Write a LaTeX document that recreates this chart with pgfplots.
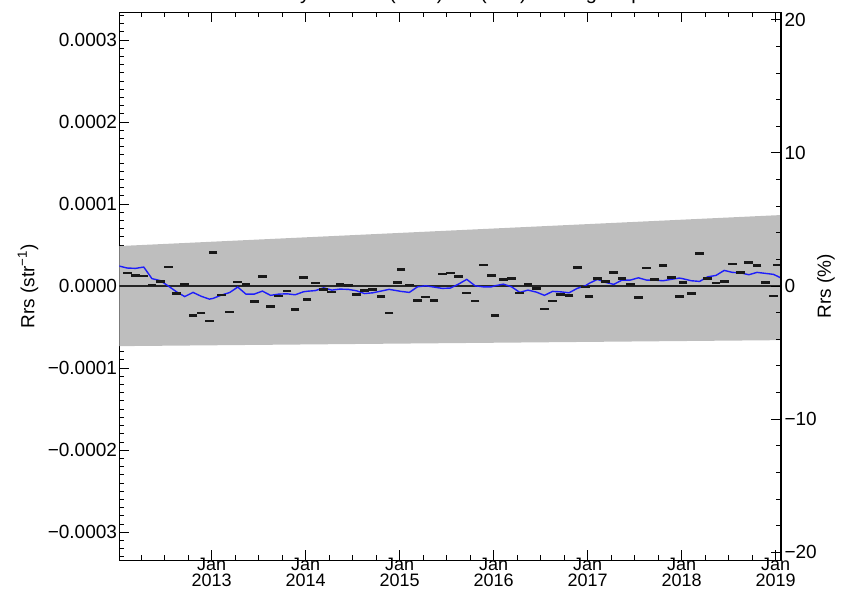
\documentclass[border=0pt]{standalone}
\usepackage{pgfplots}
\pgfplotsset{compat=1.18}
\usepackage{fontspec}
\setmainfont{Liberation Sans}
\definecolor{band}{RGB}{190,190,190}
\definecolor{dline}{RGB}{30,30,250}
\begin{document}
\begin{tikzpicture}
\begin{axis}[
  at={(0,0)}, anchor=south west,
  scale only axis, width=661.5bp, height=548bp,
  xmin=2012.019, xmax=2019.056, ymin=-33.45, ymax=33.35,
  axis line style={line width=1.1bp},
  tick align=inside, major tick length=10bp, minor tick length=5bp,
  every tick/.style={black, line width=0.9bp},
  xtick={2013,2014,2015,2016,2017,2018,2019},
  xticklabels={{Jan\\2013},{Jan\\2014},{Jan\\2015},{Jan\\2016},{Jan\\2017},{Jan\\2018},{Jan\\2019}},
  minor xtick={2012.25,2012.5,...,2019},
  xtick pos=both, ytick pos=left,
  ytick={-30,-20,-10,0,10,20,30},
  yticklabels={−0.0003,−0.0002,−0.0001,0.0000,0.0001,0.0002,0.0003},
  minor ytick={-33,-32,...,33},
  xticklabel style={align=center, font=\fontsize{18bp}{16.5bp}\selectfont, yshift=4bp, inner sep=1bp},
  yticklabel style={font=\fontsize{19bp}{22bp}\selectfont, xshift=1bp},
  ylabel={Rrs (str\textsuperscript{−1})},
  ylabel style={at={(axis description cs:-0.1383,0.5)}, anchor=center, font=\fontsize{19bp}{22bp}\selectfont},
  title={Anomaly in VIIRS(NPP) Rrs(551) for Oligotrophic},
  title style={at={(0.5,1)}, anchor=base, yshift=7bp, font=\fontsize{20bp}{24bp}\selectfont},
]
% uncertainty band
\addplot[fill=band, draw=none] coordinates {(2012.019,4.88) (2019.056,8.66) (2019.056,-6.59) (2012.019,-7.32)};
% zero line
\addplot[black!85, line width=1.6bp] coordinates {(2011.9,0) (2019.2,0)};
% running mean
\addplot[dline, line width=1.4bp] table {
x y
2012.015 2.44
2012.102 2.20
2012.190 2.16
2012.277 2.32
2012.364 0.91
2012.452 0.67
2012.539 0.00
2012.626 -0.70
2012.713 -1.28
2012.801 -0.77
2012.888 -1.24
2012.975 -1.59
2013.015 -1.50
2013.102 -1.10
2013.190 -0.79
2013.277 -0.12
2013.364 -0.98
2013.452 -0.98
2013.539 -0.61
2013.626 -1.13
2013.713 -0.98
2013.801 -0.94
2013.888 -1.06
2013.975 -0.70
2014.015 -0.63
2014.102 -0.55
2014.190 -0.21
2014.277 -0.49
2014.364 -0.37
2014.452 -0.40
2014.539 -0.57
2014.626 -0.91
2014.713 -0.82
2014.801 -0.61
2014.888 -0.40
2014.975 -0.57
2015.015 -0.65
2015.102 -0.77
2015.190 -0.09
2015.277 0.04
2015.364 -0.12
2015.452 -0.28
2015.539 -0.24
2015.626 0.24
2015.713 0.82
2015.801 0.04
2015.888 -0.09
2015.975 -0.09
2016.015 0.04
2016.102 0.24
2016.190 -0.09
2016.277 -0.77
2016.364 -0.49
2016.452 -0.73
2016.539 -1.13
2016.626 -0.65
2016.713 -0.70
2016.801 -0.82
2016.888 -0.28
2016.975 0.04
2017.015 0.33
2017.102 0.82
2017.190 0.45
2017.277 0.21
2017.364 0.73
2017.452 0.73
2017.539 1.01
2017.626 0.73
2017.713 0.73
2017.801 0.65
2017.888 0.82
2017.975 0.98
2018.015 0.89
2018.102 0.65
2018.190 0.57
2018.277 1.13
2018.364 1.30
2018.452 1.91
2018.539 1.67
2018.626 1.62
2018.713 1.38
2018.801 1.67
2018.888 1.55
2018.975 1.43
2019.015 1.22
2019.102 0.73
};
% monthly anomalies
\addplot[only marks, mark=-, mark size=4.3bp, mark options={line width=2.6bp, black!90}] table {
x y
2012.102 1.59
2012.190 1.26
2012.277 1.22
2012.364 0.12
2012.452 0.57
2012.539 2.32
2012.626 -0.94
2012.713 0.16
2012.801 -3.57
2012.888 -3.29
2012.975 -4.27
2013.015 4.11
2013.102 -1.10
2013.190 -3.17
2013.277 0.52
2013.364 0.16
2013.452 -1.87
2013.539 1.18
2013.626 -2.52
2013.713 -1.22
2013.801 -0.61
2013.888 -2.84
2013.975 1.06
2014.015 -1.62
2014.102 0.37
2014.190 -0.40
2014.277 -0.73
2014.364 0.21
2014.452 0.10
2014.539 -1.06
2014.626 -0.57
2014.713 -0.45
2014.801 -1.26
2014.888 -3.29
2014.975 0.45
2015.015 2.04
2015.102 0.12
2015.190 -1.79
2015.277 -1.34
2015.364 -1.74
2015.452 1.46
2015.539 1.59
2015.626 1.15
2015.713 -0.85
2015.801 -1.83
2015.888 2.56
2015.975 1.26
2016.015 -3.62
2016.102 0.82
2016.190 0.94
2016.277 -0.82
2016.364 0.21
2016.452 -0.28
2016.539 -2.80
2016.626 -1.83
2016.713 -1.06
2016.801 -1.13
2016.888 2.23
2016.975 -0.12
2017.015 -1.26
2017.102 0.89
2017.190 0.57
2017.277 1.62
2017.364 0.89
2017.452 0.16
2017.539 -1.38
2017.626 2.20
2017.713 0.82
2017.801 2.52
2017.888 1.06
2017.975 -1.26
2018.015 0.45
2018.102 -0.91
2018.190 3.99
2018.277 0.94
2018.364 0.40
2018.452 0.57
2018.539 2.68
2018.626 1.67
2018.713 2.89
2018.801 2.48
2018.888 0.45
2018.975 -1.22
2019.015 2.56
2019.102 1.89
};
\end{axis}
\begin{axis}[
  at={(0,0)}, anchor=south west,
  scale only axis, width=661.5bp, height=548bp,
  xmin=2012.019, xmax=2019.056, ymin=-20.62, ymax=20.55,
  hide x axis, axis y line*=right,
  axis line style={line width=1.1bp},
  tick align=inside, major tick length=10bp, minor tick length=5bp,
  every tick/.style={black, line width=0.9bp},
  ytick={-20,-10,0,10,20},
  yticklabels={−20,−10,0,10,20},
  minor ytick={-20,-18,...,20},
  yticklabel style={font=\fontsize{19bp}{22bp}\selectfont},
  ylabel={Rrs (\%)},
  ylabel style={at={(axis description cs:1.068,0.5)}, anchor=center, rotate=0, font=\fontsize{19bp}{22bp}\selectfont},
]
\end{axis}
\pgfresetboundingbox
\useasboundingbox (-119.5bp,-37.5bp) rectangle (724.5bp,560.5bp);
\end{tikzpicture}
\end{document}
